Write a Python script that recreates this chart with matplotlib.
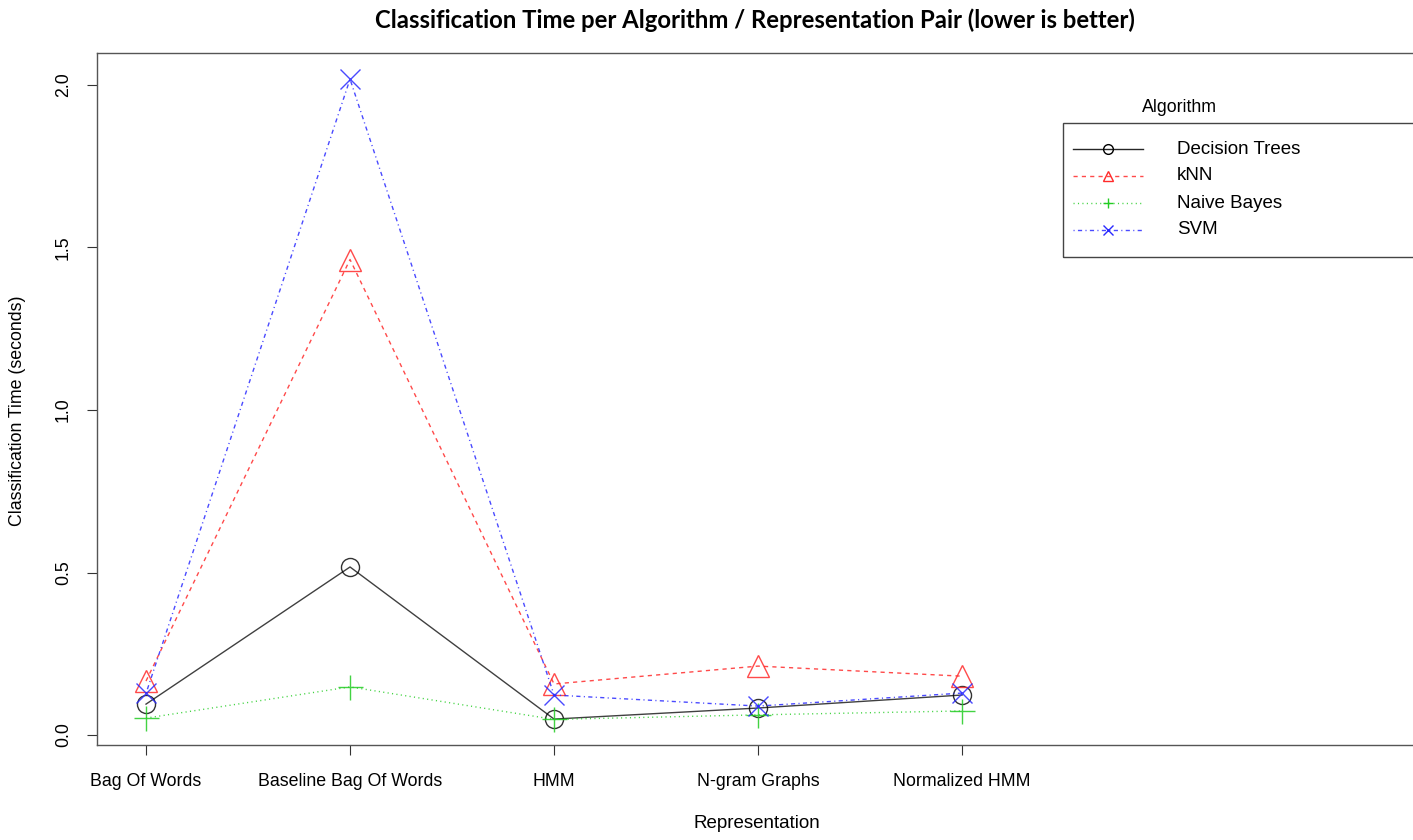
import matplotlib
matplotlib.use("Agg")
import matplotlib.pyplot as plt
from matplotlib.patches import Rectangle
from matplotlib.lines import Line2D

representations = ["Bag Of Words", "Baseline Bag Of Words", "HMM", "N-gram Graphs", "Normalized HMM"]
algorithms = ["Decision Trees", "kNN", "Naive Bayes", "SVM"]
decision_trees = [0.095, 0.517, 0.049, 0.083, 0.123]
knn = [0.166, 1.463, 0.157, 0.212, 0.181]
naive_bayes = [0.052, 0.148, 0.048, 0.062, 0.074]
svm = [0.128, 2.018, 0.123, 0.089, 0.129]
series = [decision_trees, knn, naive_bayes, svm]
yticks = [0.0, 0.5, 1.0, 1.5, 2.0]

colors = ["black", "#FF2A2A", "#22CC22", "#2A2AFF"]
markers = ["o", "^", "+", "x"]
linestyles = ["-", (0, (3, 3)), (0, (0.8, 2.4)), (0, (0.8, 2.4, 3, 2.4))]
msizes = [13, 16, 18, 15]

plt.rcParams['font.family'] = ['Liberation Sans', 'DejaVu Sans']
W, H = 1413, 840
fig = plt.figure(figsize=(W / 100, H / 100), dpi=100)
ax = fig.add_axes([97 / W, 1 - 745 / H, 1 - 97 / W + 0.01, (745 - 53) / H])

x = list(range(1, len(representations) + 1))
for vals, c, m, ls, ms in zip(series, colors, markers, linestyles, msizes):
    ax.plot(x, vals, color=c, linestyle=ls, linewidth=1.0, alpha=0.85 if c != "black" else 0.75)
    ax.plot(x, vals, linestyle="none", marker=m, markersize=ms, markerfacecolor="none",
            markeredgecolor=c, markeredgewidth=1.0, alpha=0.85 if c != "black" else 0.8)

px = 204.0
ax.set_xlim(1 - 49 / px, 1 + (W + 14 - 146) / px)
ax.set_ylim(-10 / 325, (735 - 53) / 325)
ax.set_xticks(x)
ax.set_xticklabels(representations, fontsize=12.8)
ax.set_yticks(yticks)
ax.set_yticklabels([f"{v:.1f}" for v in yticks], fontsize=12.8, rotation=90, va="center")
ax.tick_params(axis="x", length=7, width=0.8, color="#333333", pad=13)
ax.tick_params(axis="y", length=7, width=0.8, color="#333333", pad=11)
for s in ["left", "bottom", "top"]:
    ax.spines[s].set_color("#555555")
    ax.spines[s].set_linewidth(1.0)
ax.spines["right"].set_visible(False)

fig.text(18 / W, 1 - 411 / H, "Classification Time (seconds)", rotation=90, ha="center", va="center", fontsize=12.8)
fig.text(757 / W, 1 - 824 / H, "Representation", ha="center", va="center", fontsize=13.5)
fig.text(755 / W, 1 - 20 / H, "Classification Time per Algorithm / Representation Pair (lower is better)",
         ha="center", va="center", fontsize=17.2, fontweight="bold", family=["Lato", "DejaVu Sans"])

# legend
fig.patches.append(Rectangle((1063 / W, 1 - 257 / H), (W + 20 - 1063) / W, (257 - 123) / H,
                             transform=fig.transFigure, fill=False, edgecolor="#444444", linewidth=1.0,
                             clip_on=False))
fig.text(1179 / W, 1 - 107 / H, "Algorithm", ha="center", va="center", fontsize=12.8)
rows = [149, 176, 203, 230]
for name, c, m, ls, yy in zip(algorithms, colors, markers, linestyles, rows):
    yf = 1 - yy / H
    fig.lines.append(Line2D([1073 / W, 1143 / W], [yf, yf], transform=fig.transFigure,
                            color=c, linestyle=ls, linewidth=1.0, alpha=0.85))
    fig.lines.append(Line2D([1108 / W], [yf], transform=fig.transFigure, marker=m, markersize=7,
                            markerfacecolor="none", markeredgecolor=c, markeredgewidth=1.0, linestyle="none"))
    fig.text(1177 / W, yf, name, ha="left", va="center", fontsize=13.5)

fig.savefig("out.png", dpi=100)
